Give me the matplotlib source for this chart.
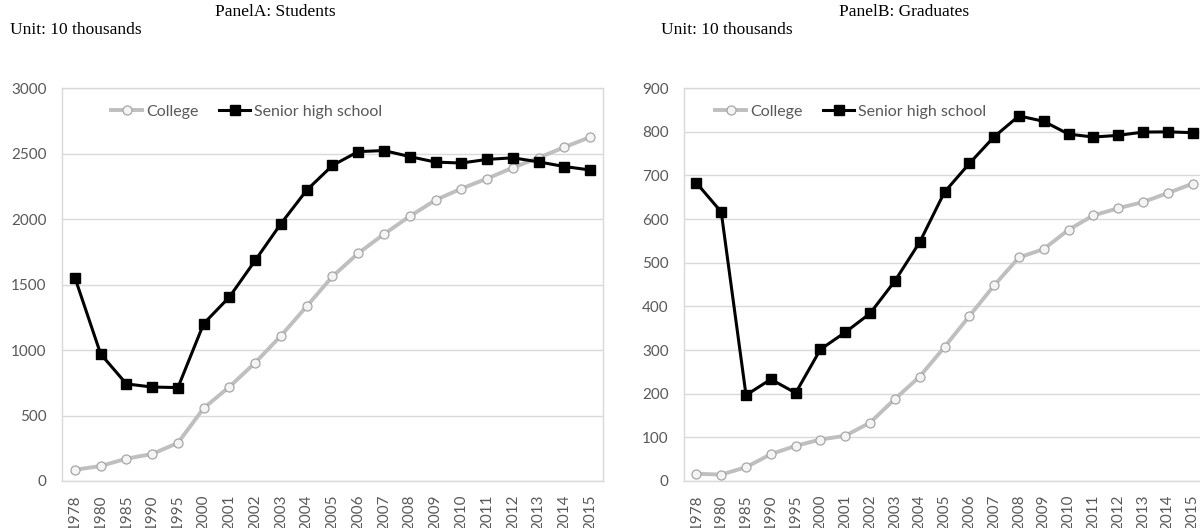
"""
Students and graduates, college vs senior high school
"""

import matplotlib
matplotlib.use("Agg")
import matplotlib.pyplot as plt

# Data (unit: 10 thousands)
years = ["1978", "1980", "1985", "1990", "1995", "2000", "2001", "2002",
         "2003", "2004", "2005", "2006", "2007", "2008", "2009", "2010",
         "2011", "2012", "2013", "2014", "2015"]

students_college = [85.6, 114.4, 170.3, 206.3, 290.6, 556.1, 719.1, 903.4,
                    1108.6, 1333.5, 1561.8, 1738.8, 1884.9, 2021.0, 2144.7,
                    2231.8, 2308.5, 2391.3, 2468.1, 2547.7, 2625.3]
students_senior = [1553.1, 969.8, 741.1, 717.3, 713.2, 1201.3, 1405.0, 1683.8,
                   1964.8, 2220.4, 2409.1, 2514.5, 2522.4, 2476.3, 2434.3,
                   2427.3, 2454.8, 2467.2, 2435.9, 2400.5, 2374.4]

grads_college = [16.5, 14.7, 31.6, 61.4, 80.5, 95.0, 103.6, 133.7, 187.7,
                 239.1, 306.8, 377.5, 447.8, 511.9, 531.1, 575.4, 608.2,
                 624.7, 638.7, 659.4, 680.9]
grads_senior = [682.7, 616.2, 196.6, 233.0, 201.6, 301.5, 340.5, 383.8,
                458.1, 546.9, 661.6, 727.1, 788.3, 836.1, 823.7, 794.4,
                787.7, 791.5, 799.0, 799.6, 797.7]

# Styles
grid_col = "#D9D9D9"
tick_col = "#595959"
gray_line = "#BFBFBF"
gray_edge = "#A6A6A6"
tick_font = "Lato"
title_font = "Liberation Serif"

fig = plt.figure(figsize=(12, 5.28), dpi=100)

ax1 = fig.add_axes([62 / 1200, 1 - 481 / 528, 541 / 1200, 393 / 528])
ax2 = fig.add_axes([684 / 1200, 1 - 481 / 528, 521 / 1200, 393 / 528])


def draw_panel(ax, college, senior, ymax, step, legend_x):
    x = list(range(len(years)))
    ax.plot(x, college, color=gray_line, linewidth=2.8,
            marker="o", markersize=6.5, markerfacecolor="#F4F4F4",
            markeredgecolor=gray_edge, markeredgewidth=0.9,
            label="College", zorder=3)
    ax.plot(x, senior, color="black", linewidth=2.2,
            marker="s", markersize=6.5, markerfacecolor="black",
            markeredgecolor="black", label="Senior high school", zorder=4)

    ax.set_xlim(-0.5, len(years) - 0.5)
    ax.set_ylim(0, ymax)
    ax.set_yticks(range(0, ymax + 1, step))
    ax.set_xticks(x)
    ax.set_xticklabels(years, rotation=90)

    ax.grid(True, axis="y", color=grid_col, linewidth=1.0, zorder=0)
    for spine in ax.spines.values():
        spine.set_color(grid_col)
        spine.set_linewidth(1.0)

    ax.tick_params(length=0, colors=tick_col, labelsize=11)
    ax.tick_params(axis="y", pad=11)
    ax.tick_params(axis="x", pad=10)
    for lab in ax.get_xticklabels() + ax.get_yticklabels():
        lab.set_fontfamily(tick_font)

    leg = ax.legend(loc="upper left", bbox_to_anchor=(legend_x, 0.995),
                    ncol=2, frameon=False, handlelength=1.95,
                    handletextpad=0.25, columnspacing=1.3,
                    prop={"family": tick_font, "size": 11.5})
    for t in leg.get_texts():
        t.set_color(tick_col)


draw_panel(ax1, students_college, students_senior, 3000, 500, 0.064)
draw_panel(ax2, grads_college, grads_senior, 900, 100, 0.032)

# Titles and unit notes
fig.text(275 / 1200, 1 - 12 / 528, "PanelA: Students", ha="center",
         va="center", fontsize=12.5, family=title_font)
fig.text(10 / 1200, 1 - 30 / 528, "Unit: 10 thousands", ha="left",
         va="center", fontsize=12.5, family=title_font)
fig.text(904 / 1200, 1 - 12 / 528, "PanelB: Graduates", ha="center",
         va="center", fontsize=12.5, family=title_font)
fig.text(661 / 1200, 1 - 30 / 528, "Unit: 10 thousands", ha="left",
         va="center", fontsize=12.5, family=title_font)

fig.savefig("out.png", dpi=100)
